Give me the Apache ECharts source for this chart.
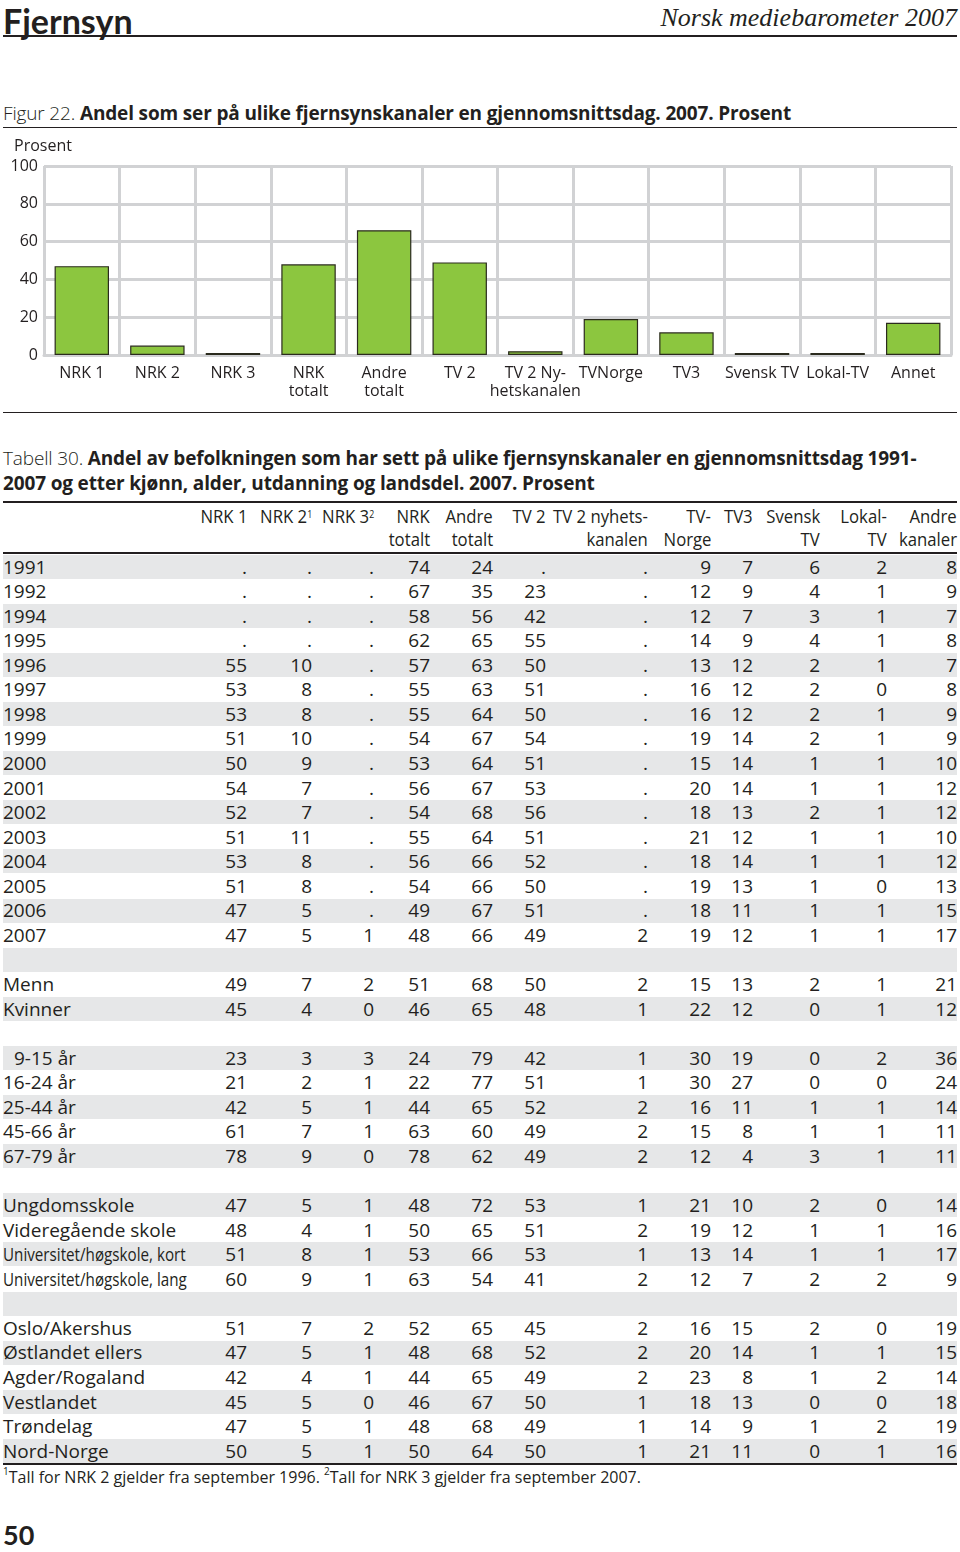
<!DOCTYPE html>
<html><head><meta charset="utf-8">
<script src="https://cdn.jsdelivr.net/npm/echarts@6/dist/echarts.min.js"></script>
<style>
html,body{margin:0;padding:0;background:#fff;}
body{width:960px;height:1552px;position:relative;overflow:hidden;font-family:"Open Sans","Noto Sans",sans-serif;color:#231f20;}
.abs{position:absolute;white-space:nowrap;}
.hr{position:absolute;left:3px;width:954px;background:#231f20;}
.band{position:absolute;left:3px;width:954px;background:#e6e7e8;}
.cell{position:absolute;white-space:nowrap;font-size:19px;line-height:24px;text-align:right;}
.lab{position:absolute;white-space:nowrap;font-size:19px;line-height:24px;left:3px;transform-origin:left center;}
.hd{position:absolute;white-space:nowrap;font-size:19px;line-height:22px;text-align:right;transform:scaleX(0.88);transform-origin:right center;}
sup{font-size:10px;vertical-align:top;position:relative;top:-2px;}
</style>
</head><body>
<div class="abs" style="left:3px;top:0px;font-family:Lato,'Open Sans',sans-serif;font-size:34px;line-height:normal;font-weight:700;">Fjernsyn</div>
<div class="abs" style="right:3px;top:3px;font-family:'Liberation Serif','DejaVu Serif',serif;font-style:italic;font-size:26px;">Norsk mediebarometer 2007</div>
<div class="hr" style="top:35px;height:2px;"></div>
<div class="abs" style="left:3px;top:100px;font-size:19px;letter-spacing:-0.15px;"><span style="font-weight:300">Figur 22. </span><b>Andel som ser på ulike fjernsynskanaler en gjennomsnittsdag. 2007. Prosent</b></div>
<div class="hr" style="top:127px;height:1px;"></div>
<div id="chart" style="position:absolute;left:0;top:130px;width:960px;height:280px;"></div>
<div class="hr" style="top:412px;height:1px;"></div>
<div class="abs" style="left:3px;top:446px;font-size:19px;line-height:25px;letter-spacing:-0.15px;"><span style="font-weight:300">Tabell 30. </span><b>Andel av befolkningen som har sett på ulike fjernsynskanaler en gjennomsnittsdag 1991-<br>2007 og etter kjønn, alder, utdanning og landsdel. 2007. Prosent</b></div>
<div class="hr" style="top:501px;height:2px;"></div>
<div id="table"></div>
<div class="hr" style="top:552px;height:2px;"></div>
<div class="abs" style="left:3px;top:1466px;font-size:16px;"><sup>1</sup>Tall for NRK 2 gjelder fra september 1996. <sup>2</sup>Tall for NRK 3 gjelder fra september 2007.</div>
<div class="abs" style="left:3px;top:1518px;font-family:Lato,'Open Sans',sans-serif;font-size:27px;line-height:normal;font-weight:700;">50</div>
<script>
// ---- Chart data (Figur 22) ----
var barCategories = ["NRK 1","NRK 2","NRK 3","NRK\ntotalt","Andre\ntotalt","TV 2","TV 2 Ny-\nhetskanalen","TVNorge","TV3","Svensk TV","Lokal-TV","Annet"];
var barValues = [47, 5, 1, 48, 66, 49, 2, 19, 12, 1, 1, 17];
var yTicks = [0, 20, 40, 60, 80, 100];

// ---- Table data (Tabell 30) ----
var headerLine1 = ["NRK 1","NRK 2<sup>1</sup>","NRK 3<sup>2</sup>","NRK","Andre","TV 2","TV 2 nyhets-","TV-","TV3","Svensk","Lokal-","Andre"];
var headerLine2 = ["","","","totalt","totalt","","kanalen","Norge","","TV","TV","kanaler"];
var yearLabels = ["1991","1992","1994","1995","1996","1997","1998","1999","2000","2001","2002","2003","2004","2005","2006","2007"];
var yearValues = [
 [".",".",".","74","24",".",".","9","7","6","2","8"],
 [".",".",".","67","35","23",".","12","9","4","1","9"],
 [".",".",".","58","56","42",".","12","7","3","1","7"],
 [".",".",".","62","65","55",".","14","9","4","1","8"],
 ["55","10",".","57","63","50",".","13","12","2","1","7"],
 ["53","8",".","55","63","51",".","16","12","2","0","8"],
 ["53","8",".","55","64","50",".","16","12","2","1","9"],
 ["51","10",".","54","67","54",".","19","14","2","1","9"],
 ["50","9",".","53","64","51",".","15","14","1","1","10"],
 ["54","7",".","56","67","53",".","20","14","1","1","12"],
 ["52","7",".","54","68","56",".","18","13","2","1","12"],
 ["51","11",".","55","64","51",".","21","12","1","1","10"],
 ["53","8",".","56","66","52",".","18","14","1","1","12"],
 ["51","8",".","54","66","50",".","19","13","1","0","13"],
 ["47","5",".","49","67","51",".","18","11","1","1","15"],
 ["47","5","1","48","66","49","2","19","12","1","1","17"]
];
var genderLabels = ["Menn","Kvinner"];
var genderValues = [
 ["49","7","2","51","68","50","2","15","13","2","1","21"],
 ["45","4","0","46","65","48","1","22","12","0","1","12"]
];
var ageLabels = ["  9-15 år","16-24 år","25-44 år","45-66 år","67-79 år"];
var ageValues = [
 ["23","3","3","24","79","42","1","30","19","0","2","36"],
 ["21","2","1","22","77","51","1","30","27","0","0","24"],
 ["42","5","1","44","65","52","2","16","11","1","1","14"],
 ["61","7","1","63","60","49","2","15","8","1","1","11"],
 ["78","9","0","78","62","49","2","12","4","3","1","11"]
];
var eduLabels = ["Ungdomsskole","Videregående skole","Universitet/høgskole, kort","Universitet/høgskole, lang"];
var eduValues = [
 ["47","5","1","48","72","53","1","21","10","2","0","14"],
 ["48","4","1","50","65","51","2","19","12","1","1","16"],
 ["51","8","1","53","66","53","1","13","14","1","1","17"],
 ["60","9","1","63","54","41","2","12","7","2","2","9"]
];
var regionLabels = ["Oslo/Akershus","Østlandet ellers","Agder/Rogaland","Vestlandet","Trøndelag","Nord-Norge"];
var regionValues = [
 ["51","7","2","52","65","45","2","16","15","2","0","19"],
 ["47","5","1","48","68","52","2","20","14","1","1","15"],
 ["42","4","1","44","65","49","2","23","8","1","2","14"],
 ["45","5","0","46","67","50","1","18","13","0","0","18"],
 ["47","5","1","48","68","49","1","14","9","1","2","19"],
 ["50","5","1","50","64","50","1","21","11","0","1","16"]
];

// ---- Build table ----
(function(){
  var colRight = [247,312,374,430,493,546,648,711,753,820,887,957];
  var rows = [];
  function add(labels, vals){ for(var i=0;i<labels.length;i++) rows.push({l:labels[i], v:vals[i]}); }
  add(yearLabels, yearValues); rows.push(null);
  add(genderLabels, genderValues); rows.push(null);
  add(ageLabels, ageValues); rows.push(null);
  add(eduLabels, eduValues); rows.push(null);
  add(regionLabels, regionValues);
  var html = "";
  for (var c=0;c<12;c++){
    var r = 960 - colRight[c];
    html += '<div class="hd" style="right:'+r+'px;top:505px;">'+headerLine1[c]+'</div>';
    if (headerLine2[c]) html += '<div class="hd" style="right:'+r+'px;top:528px;">'+headerLine2[c]+'</div>';
  }
  var pitch = 24.56, y0 = 567;
  for (var i=0;i<rows.length;i++){
    var cy = y0 + i*pitch;
    if (i%2===0) html += '<div class="band" style="top:'+(cy-12.3).toFixed(1)+'px;height:24px;"></div>';
    var row = rows[i];
    if (!row) continue;
    var top = (cy-12.5).toFixed(1);
    var lab = row.l, extra = '';
    if (lab.indexOf('Universitet')===0) extra = 'transform:scaleX(0.8);';
    if (lab.indexOf('  ')===0) { lab = lab.trim(); extra = 'left:14px;'; }
    html += '<div class="lab" style="top:'+top+'px;'+extra+'">'+lab+'</div>';
    for (var c=0;c<12;c++){
      html += '<div class="cell" style="right:'+(960-colRight[c])+'px;top:'+top+'px;">'+row.v[c]+'</div>';
    }
  }
  var lastY = y0 + (rows.length-1)*pitch + 12;
  html += '<div class="hr" style="top:'+lastY.toFixed(0)+'px;height:2px;"></div>';
  document.getElementById('table').innerHTML = html;
})();

// ---- Chart ----
var chart = echarts.init(document.getElementById('chart'), null, {renderer:'canvas'});
var gridColor = '#d1d2d4';
chart.setOption({
  animation: false,
  textStyle: {fontFamily: '"Open Sans","Noto Sans",sans-serif', color:'#231f20'},
  title: {text:'Prosent', left: 9, top: 3, textStyle:{fontSize:16, fontWeight:'normal', color:'#231f20', fontFamily:'"Open Sans","Noto Sans",sans-serif'}},
  grid: {left:44, right:9, top:36, height:189},
  xAxis: {
    type:'category', data: barCategories, boundaryGap:true,
    axisLine:{show:true, lineStyle:{color:gridColor, width:3}},
    axisTick:{show:false},
    splitLine:{show:true, interval:0, lineStyle:{color:gridColor, width:3}},
    axisLabel:{interval:0, fontSize:16, lineHeight:18, margin:9, color:'#231f20'}
  },
  yAxis: {
    type:'value', min:yTicks[0], max:yTicks[yTicks.length-1], interval:20,
    axisLine:{show:false}, axisTick:{show:false},
    splitLine:{show:true, lineStyle:{color:gridColor, width:3}},
    axisLabel:{fontSize:16, color:'#231f20', margin:6}
  },
  series: [{
    type:'bar', data: barValues, barWidth:'72%',
    itemStyle:{color:'#8cc63f', borderColor:'#2b2b1e', borderWidth:1.2}
  }]
});
</script>
</body></html>
